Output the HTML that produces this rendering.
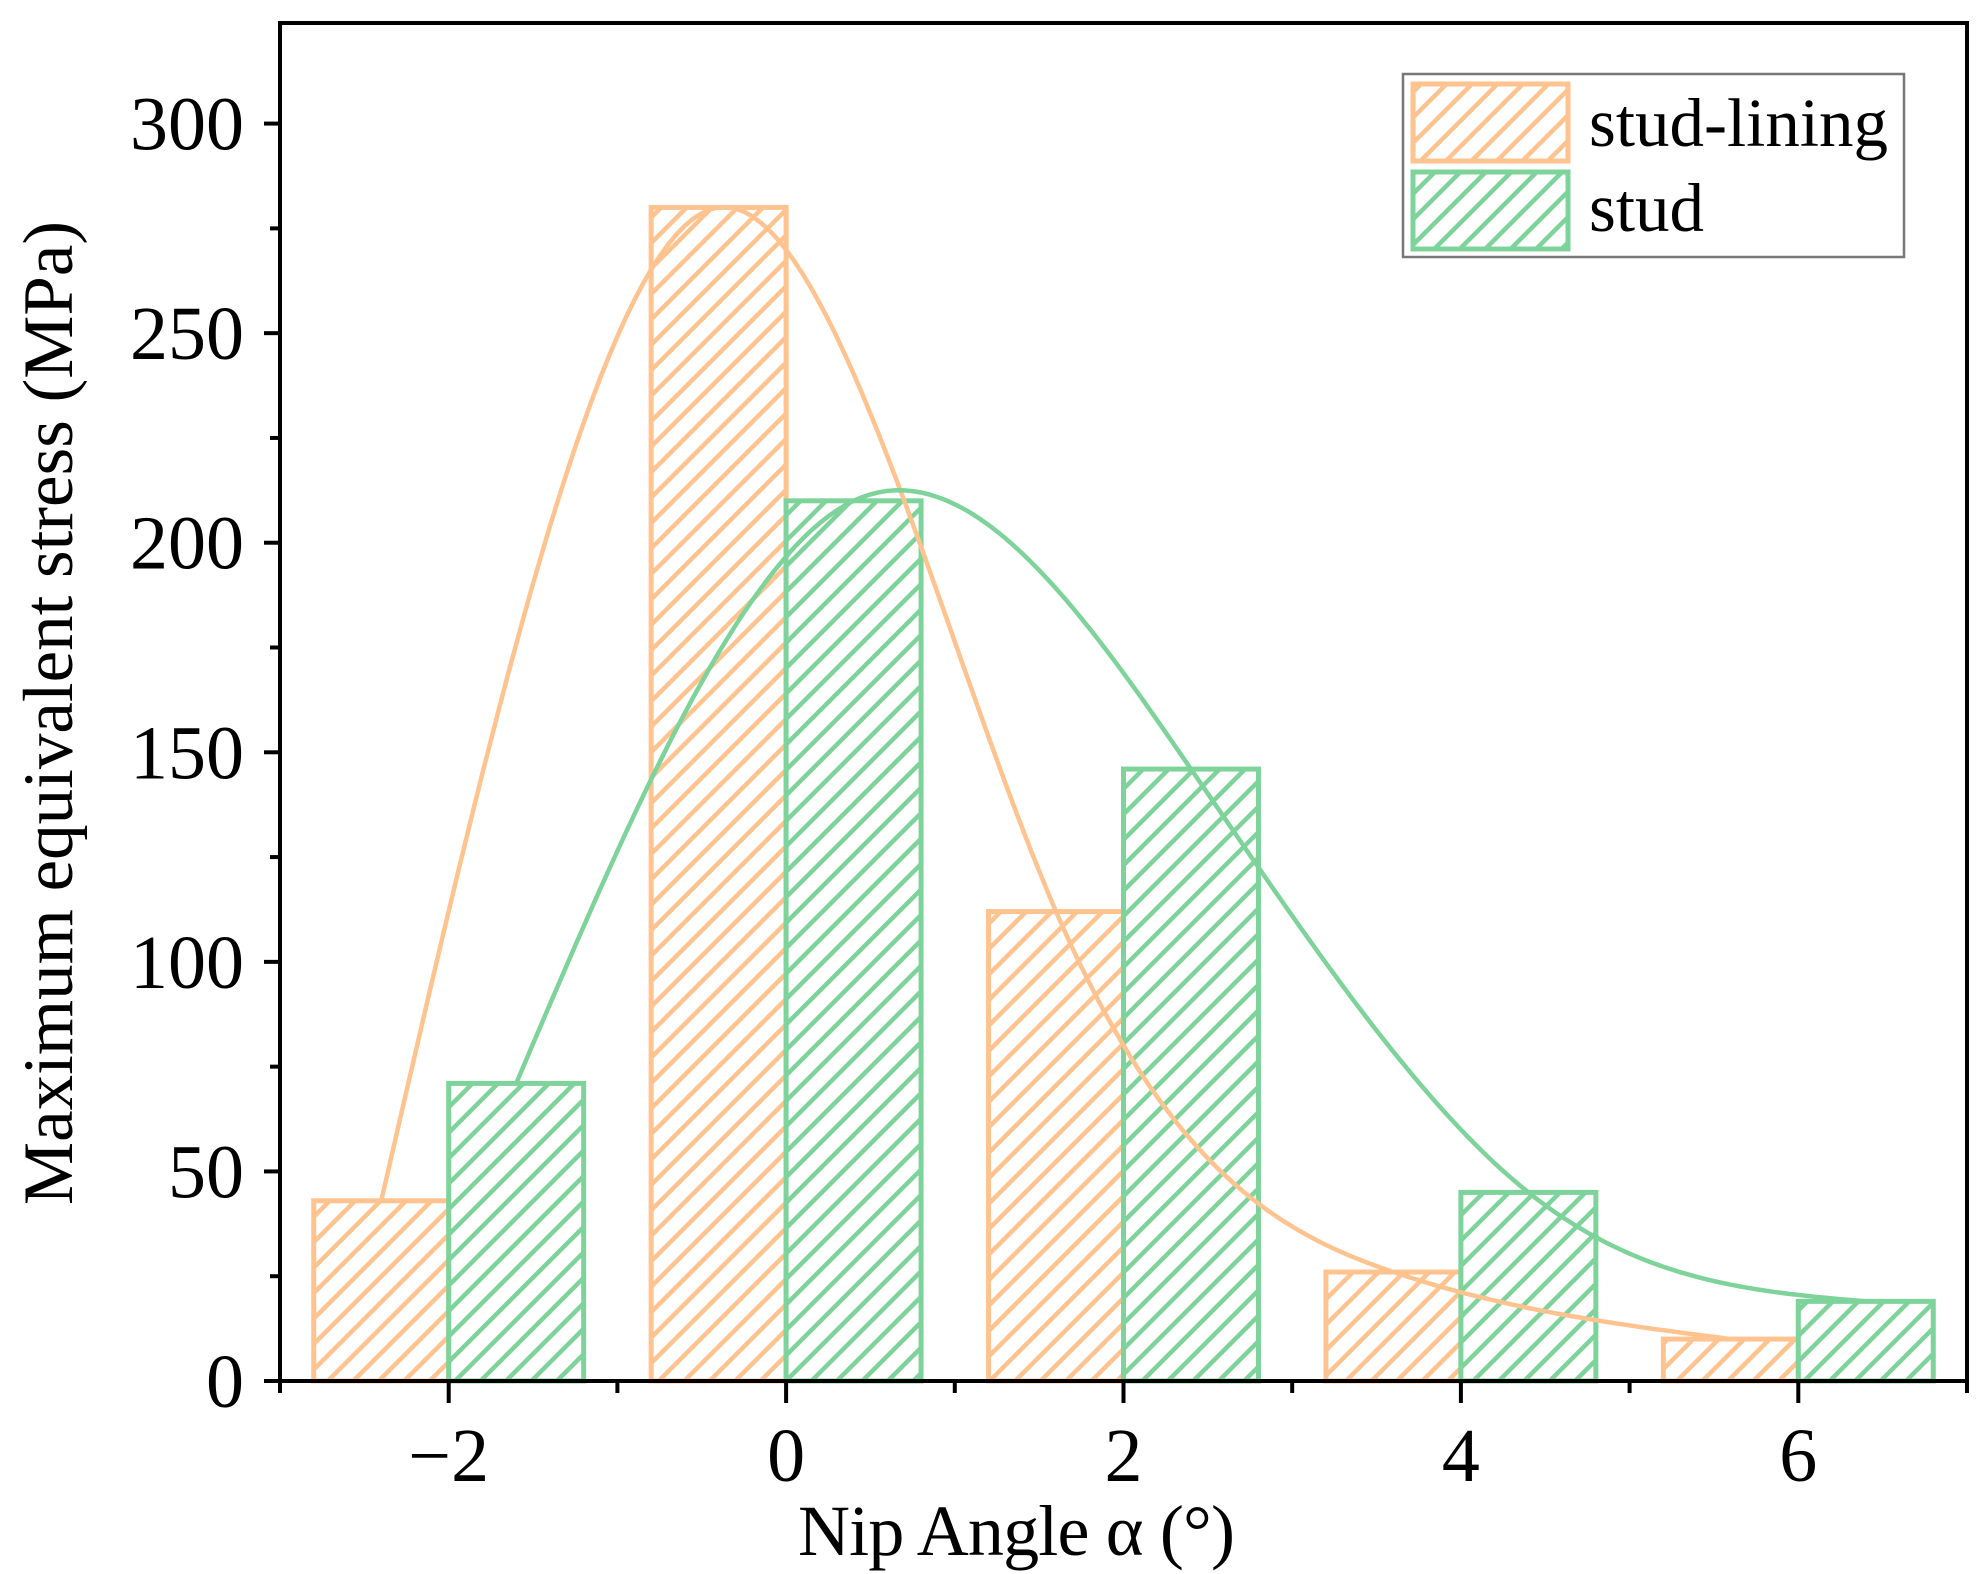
<!DOCTYPE html>
<html><head><meta charset="utf-8"><style>
html,body{margin:0;padding:0;background:#fff;}
svg{display:block;font-family:"Liberation Serif","Noto Serif CJK SC",serif;}
</style></head><body>
<svg id="chart" width="1986" height="1574" viewBox="0 0 1986 1574" xmlns="http://www.w3.org/2000/svg">
<defs>
<pattern id="hatchO" patternUnits="userSpaceOnUse" width="18" height="18" patternTransform="rotate(45)">
<rect width="18" height="18" fill="#fff"/><rect x="0" y="0" width="4.5" height="18" fill="#FFC38F"/></pattern>
<pattern id="hatchG" patternUnits="userSpaceOnUse" width="18" height="18" patternTransform="rotate(45)">
<rect width="18" height="18" fill="#fff"/><rect x="0" y="0" width="4.5" height="18" fill="#7DD39A"/></pattern>
</defs>
<g id="bars"></g>
<g id="curves"></g>
<g id="axes"></g>
</svg>
<script>
const categories = [-2, 0, 2, 4, 6];
const studLining = [43, 280, 112, 26, 10];
const stud = [71, 210, 146, 45, 19];
const xTicks = [-2, 0, 2, 4, 6];
const yTicks = [0, 50, 100, 150, 200, 250, 300];

const NS = "http://www.w3.org/2000/svg";
const X0 = 280, X1 = 1967, Y0 = 1381, YT = 23;
const xMin = -3, xMax = 7, yMin = 0, yMax = 324;
const xs = v => X0 + (v - xMin) / (xMax - xMin) * (X1 - X0);
const ys = v => Y0 - (v - yMin) / (yMax - yMin) * (Y0 - YT);
const BW = 0.8;
const O = "#FFC38F", G = "#7DD39A";

function mk(tag, attrs, parent) {
  const e = document.createElementNS(NS, tag);
  for (const k in attrs) e.setAttribute(k, attrs[k]);
  parent.appendChild(e);
  return e;
}
const bars = document.getElementById('bars');
const curves = document.getElementById('curves');
const axes = document.getElementById('axes');

categories.forEach((c, i) => {
  let r = mk('rect', {x: xs(c - BW), y: ys(studLining[i]), width: xs(c) - xs(c - BW), height: ys(0) - ys(studLining[i]), fill: 'url(#hatchO)', stroke: O, 'stroke-width': 5}, bars);
  
  
  let g = mk('rect', {x: xs(c), y: ys(stud[i]), width: xs(c + BW) - xs(c), height: ys(0) - ys(stud[i]), fill: 'url(#hatchG)', stroke: G, 'stroke-width': 5}, bars);
  
  
});

function spline(px, py) {
  const n = px.length, h = [], a = [], l = [1], mu = [0], z = [0], c = new Array(n).fill(0), b = [], d = [];
  for (let i = 0; i < n - 1; i++) h.push(px[i + 1] - px[i]);
  for (let i = 1; i < n - 1; i++) a[i] = 3 / h[i] * (py[i + 1] - py[i]) - 3 / h[i - 1] * (py[i] - py[i - 1]);
  for (let i = 1; i < n - 1; i++) {
    l[i] = 2 * (px[i + 1] - px[i - 1]) - h[i - 1] * mu[i - 1];
    mu[i] = h[i] / l[i];
    z[i] = (a[i] - h[i - 1] * z[i - 1]) / l[i];
  }
  for (let j = n - 2; j >= 0; j--) {
    c[j] = (j === 0) ? 0 : z[j] - mu[j] * c[j + 1];
    b[j] = (py[j + 1] - py[j]) / h[j] - h[j] * (c[j + 1] + 2 * c[j]) / 3;
    d[j] = (c[j + 1] - c[j]) / (3 * h[j]);
  }
  let pts = [];
  for (let i = 0; i < n - 1; i++) {
    for (let s = 0; s <= 40; s++) {
      const t = s / 40 * h[i];
      const v = py[i] + b[i] * t + c[i] * t * t + d[i] * t * t * t;
      pts.push(xs(px[i] + t).toFixed(1) + ',' + ys(v).toFixed(1));
    }
  }
  return 'M' + pts.join(' L');
}
const oc = mk('path', {d: spline(categories.map(c => c - BW / 2), studLining), fill: 'none', stroke: O, 'stroke-width': 4.5}, curves);


const gc = mk('path', {d: spline(categories.map(c => c + BW / 2), stud), fill: 'none', stroke: G, 'stroke-width': 4.5}, curves);



const fr = mk('rect', {x: X0, y: YT, width: X1 - X0, height: Y0 - YT, fill: 'none', stroke: '#000', 'stroke-width': 4}, axes);


yTicks.forEach(v => {
  mk('line', {x1: X0 - 16, x2: X0, y1: ys(v), y2: ys(v), stroke: '#000', 'stroke-width': 4}, axes);
  const t = mk('text', {x: X0 - 36, y: ys(v) + 26, 'text-anchor': 'end', 'font-size': 76}, axes);
  t.textContent = v;
  
  
});
for (let v = 25; v < yMax; v += 50) mk('line', {x1: X0 - 10, x2: X0, y1: ys(v), y2: ys(v), stroke: '#000', 'stroke-width': 4}, axes);
xTicks.forEach(v => {
  mk('line', {x1: xs(v), x2: xs(v), y1: Y0, y2: Y0 + 22, stroke: '#000', 'stroke-width': 4}, axes);
  const t = mk('text', {x: xs(v), y: Y0 + 100, 'text-anchor': 'middle', 'font-size': 76}, axes);
  t.textContent = v < 0 ? '\u2212' + Math.abs(v) : v;
  
  
});
for (let v = -3; v <= 7; v += 2) mk('line', {x1: xs(v), x2: xs(v), y1: Y0, y2: Y0 + 12, stroke: '#000', 'stroke-width': 4}, axes);
</script>
<script>
(function(){
const svg = document.getElementById('chart');
const NS = "http://www.w3.org/2000/svg";
function add(tag, attrs, txt){const e=document.createElementNS(NS,tag);for(const k in attrs)e.setAttribute(k,attrs[k]);if(txt)e.textContent=txt;svg.appendChild(e);return e;}
let yt = add('text', {x: 0, y: 0, transform: 'translate(72,713) rotate(-90)', 'text-anchor': 'middle', 'font-size': 71}, 'Maximum equivalent stress (MPa)');


let xt = add('text', {x: 798, y: 1555, 'font-size': 72, textLength: 437, lengthAdjust: 'spacing'}, 'Nip Angle \u03b1 (\u00b0)');


let lb = add('rect', {x: 1403, y: 74, width: 501, height: 183, fill: '#fff', stroke: '#777', 'stroke-width': 2.5});


let s1 = add('rect', {x: 1413, y: 84, width: 155, height: 77, fill: 'url(#hatchO)', stroke: '#FFC38F', 'stroke-width': 5});


let s2 = add('rect', {x: 1413, y: 172, width: 155, height: 77, fill: 'url(#hatchG)', stroke: '#7DD39A', 'stroke-width': 5});


let t1 = add('text', {x: 1589, y: 146, 'font-size': 69}, 'stud-lining');


let t2 = add('text', {x: 1589, y: 231, 'font-size': 69}, 'stud');


})();
</script>
</body></html>
